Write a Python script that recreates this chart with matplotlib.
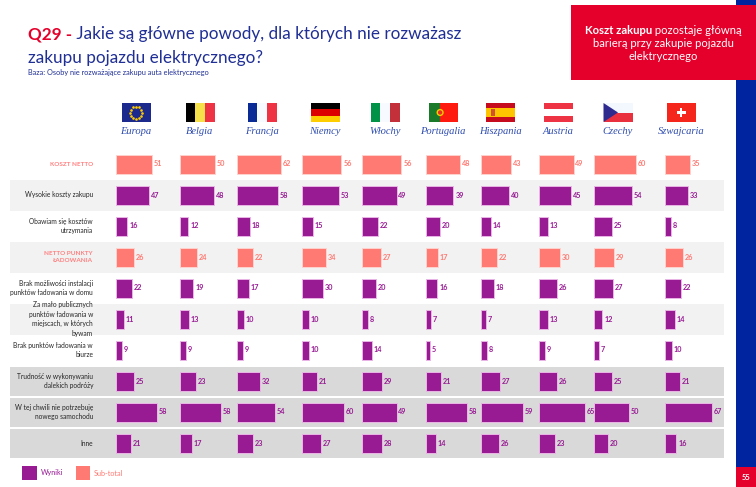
import numpy as np
import matplotlib
matplotlib.use("Agg")
import matplotlib.pyplot as plt
from matplotlib.patches import Rectangle, Polygon, Circle

# dane
kraje = ["Europa", "Belgia", "Francja", "Niemcy", "Włochy",
         "Portugalia", "Hiszpania", "Austria", "Czechy", "Szwajcaria"]

koszt_netto = [51, 50, 62, 56, 56, 48, 43, 49, 60, 35]
wysokie_koszty = [47, 48, 58, 53, 49, 39, 40, 45, 54, 33]
koszty_utrzymania = [16, 12, 18, 15, 22, 20, 14, 13, 25, 8]
netto_ladowanie = [26, 24, 22, 34, 27, 17, 22, 30, 29, 26]
brak_w_domu = [22, 19, 17, 30, 20, 16, 18, 26, 27, 22]
za_malo_publicznych = [11, 13, 10, 10, 8, 7, 7, 13, 12, 14]
brak_w_biurze = [9, 9, 9, 10, 14, 5, 8, 9, 7, 10]
dalekie_podroze = [25, 23, 32, 21, 29, 21, 27, 26, 25, 21]
nie_potrzebuje = [58, 58, 54, 60, 49, 58, 59, 65, 50, 67]
inne = [21, 17, 23, 27, 28, 14, 26, 23, 20, 16]

etykiety = ["KOSZT NETTO",
            "Wysokie koszty zakupu",
            "Obawiam się kosztów\nutrzymania",
            "NETTO PUNKTY\nŁADOWANIA",
            "Brak możliwości instalacji\npunktów ładowania w domu",
            "Za mało publicznych\npunktów ładowania w\nmiejscach, w których\nbywam",
            "Brak punktów ładowania w\nbiurze",
            "Trudność w wykonywaniu\ndalekich podróży",
            "W tej chwili nie potrzebuję\nnowego samochodu",
            "Inne"]
wiersze = [koszt_netto, wysokie_koszty, koszty_utrzymania, netto_ladowanie,
           brak_w_domu, za_malo_publicznych, brak_w_biurze, dalekie_podroze,
           nie_potrzebuje, inne]
subtotal = [True, False, False, True, False, False, False, False, False, False]

FIOLET = "#981b94"
LOSOS = "#ff7a73"
CZERWONY = "#e4002b"
GRANAT = "#1f2f95"
FONT = "Lato"

# uklad (piksele)
W, H = 756, 487
col_left = np.array([116, 180, 237, 302, 362, 426, 481, 539, 594, 665])
flag_cx = [136, 200, 262, 325, 385, 443, 500, 558, 618, 681]
skala = 0.705
row_y = 164 + 31 * np.arange(10)

fig = plt.figure(figsize=(W / 100, H / 100), dpi=100)
ax = fig.add_axes([0, 0, 1, 1])
ax.set_xlim(0, W)
ax.set_ylim(H, 0)
ax.axis("off")

# tla wierszy
for i, y in enumerate(row_y):
    if i >= 7:
        ax.add_patch(Rectangle((10, y - 14.5), 714, 29.5, color="#d9d9d9", lw=0, zorder=0))
    elif i % 2 == 1:
        ax.add_patch(Rectangle((10, y - 15.5), 714, 31, color="#f2f2f2", lw=0, zorder=0))

# slupki
for i, vals in enumerate(wiersze):
    kolor = LOSOS if subtotal[i] else FIOLET
    brzeg = "#ffd2ce" if subtotal[i] else "#e9b6e6"
    szer = np.array(vals) * skala
    ax.barh([row_y[i]] * len(vals), szer, left=col_left, height=19,
            color=kolor, edgecolor=brzeg, linewidth=0.7, zorder=2)
    for x0, w, v in zip(col_left, szer, vals):
        ax.text(x0 + w + 1.8, row_y[i], str(v), fontsize=5.2, fontweight="bold",
                color=kolor, va="center", ha="left", family=FONT, zorder=3)
    ax.text(93, row_y[i], etykiety[i], ha="right", va="center", family=FONT,
            fontsize=4.6 if subtotal[i] else 4.8, fontweight="bold" if subtotal[i] else "normal",
            color="#ff8080" if subtotal[i] else "#262626", linespacing=1.4, zorder=3)


# flagi
def pasy_pion(cx, kolory):
    w = 29 / len(kolory)
    for k, c in enumerate(kolory):
        ax.add_patch(Rectangle((cx - 14.5 + k * w, 103), w, 19, color=c, lw=0))


def pasy_poziom(cx, kolory, proporcje=None):
    proporcje = proporcje or [1] * len(kolory)
    y = 103
    for c, p in zip(kolory, proporcje):
        h = 19 * p / sum(proporcje)
        ax.add_patch(Rectangle((cx - 14.5, y), 29, h, color=c, lw=0))
        y += h


cx = flag_cx
ax.add_patch(Rectangle((cx[0] - 14.5, 103), 29, 19, color="#1b2a8c", lw=0))
kat = np.linspace(0, 2 * np.pi, 13)[:-1]
ax.scatter(cx[0] + 6 * np.cos(kat), 112.5 + 6 * np.sin(kat), s=0.8, color="#ffcc00", zorder=3)
pasy_pion(cx[1], ["#000000", "#f7e14b", "#ee3344"])
pasy_pion(cx[2], ["#0a2a96", "#f7fbff", "#ee3344"])
pasy_poziom(cx[3], ["#000000", "#dd0000", "#ffce00"])
pasy_pion(cx[4], ["#009246", "#f7fbff", "#c4303a"])
ax.add_patch(Rectangle((cx[5] - 14.5, 103), 11.6, 19, color="#1a7a2a", lw=0))
ax.add_patch(Rectangle((cx[5] - 2.9, 103), 17.4, 19, color="#ff1a10", lw=0))
ax.add_patch(Circle((cx[5] - 2.9, 112.5), 3.6, color="#f5d000", lw=0, zorder=3))
ax.add_patch(Circle((cx[5] - 2.9, 112.5), 2.2, color="#e83020", lw=0, zorder=3))
pasy_poziom(cx[6], ["#c60b1e", "#ffc400", "#c60b1e"], [1, 2, 1])
ax.add_patch(Rectangle((cx[6] - 9, 109), 4, 7, color="#d05030", lw=0, zorder=3))
pasy_poziom(cx[7], ["#ee3344", "#ffffff", "#ee3344"])
pasy_poziom(cx[8], ["#f3f8ff", "#e8303f"])
ax.add_patch(Polygon([(cx[8] - 14.5, 103), (cx[8] - 14.5, 122), (cx[8], 112.5)],
                     closed=True, color="#2e2a8e", lw=0, zorder=3))
ax.add_patch(Rectangle((cx[9] - 14.5, 103), 29, 19, color="#f5261c", lw=0))
ax.add_patch(Rectangle((cx[9] - 1.3, 108), 2.6, 9, color="white", lw=0, zorder=3))
ax.add_patch(Rectangle((cx[9] - 4.5, 111.2), 9, 2.6, color="white", lw=0, zorder=3))

for x, k in zip(flag_cx, kraje):
    ax.text(x, 131, k, ha="center", va="center", fontsize=7.6, style="italic",
            family="Liberation Serif", color="#2f4db0")

# tytul
t1 = ax.text(28, 34, "Q29 -", fontsize=12.3, fontweight="bold", color=CZERWONY,
             family=FONT, va="center", ha="left")
ax.annotate(" Jakie są główne powody, dla których nie rozważasz", xy=(1, 0.5), xycoords=t1,
            fontsize=12.3, color=GRANAT, family=FONT, va="center", ha="left")
ax.text(28, 58, "zakupu pojazdu elektrycznego?", fontsize=12.3, color=GRANAT,
        family=FONT, va="center", ha="left")
ax.text(28, 73, "Baza: Osoby nie rozważające zakupu auta elektrycznego", fontsize=5.3,
        color=GRANAT, family=FONT, va="center", ha="left")

# pasek po prawej i ramka
ax.add_patch(Rectangle((736, 0), 20, 467, color="#0023a0", lw=0, zorder=1))
ax.add_patch(Rectangle((736, 467), 20, 20, color=CZERWONY, lw=0, zorder=1))
ax.text(746, 477, "55", color="white", fontsize=5.5, fontweight="bold", family=FONT,
        ha="center", va="center", zorder=4)
ax.add_patch(Rectangle((571, 5), 185, 75, color=CZERWONY, lw=0, zorder=4))

r = fig.canvas.get_renderer()
fs_box = 8.1
a = ax.text(0, 30, "Koszt zakupu", fontsize=fs_box, fontweight="bold", color="white",
            family=FONT, va="center", ha="left", zorder=5)
b = ax.text(0, 30, " pozostaje główną", fontsize=fs_box, color="white",
            family=FONT, va="center", ha="left", zorder=5)
wa = a.get_window_extent(r).width
wb = b.get_window_extent(r).width
a.set_x(663 - (wa + wb) / 2)
b.set_x(663 - (wa + wb) / 2 + wa)
ax.text(663, 43.5, "barierą przy zakupie pojazdu", fontsize=fs_box, color="white",
        family=FONT, va="center", ha="center", zorder=5)
ax.text(663, 57, "elektrycznego", fontsize=fs_box, color="white",
        family=FONT, va="center", ha="center", zorder=5)

# legenda
ax.add_patch(Rectangle((22, 466), 15, 14, color=FIOLET, lw=0))
ax.text(41, 473, "Wyniki", fontsize=5.2, color=FIOLET, family=FONT, va="center")
ax.add_patch(Rectangle((76, 466), 14, 14, color=LOSOS, lw=0))
ax.text(94, 473, "Sub-total", fontsize=5.2, color=LOSOS, family=FONT, va="center")

fig.savefig("out.png", dpi=100)
